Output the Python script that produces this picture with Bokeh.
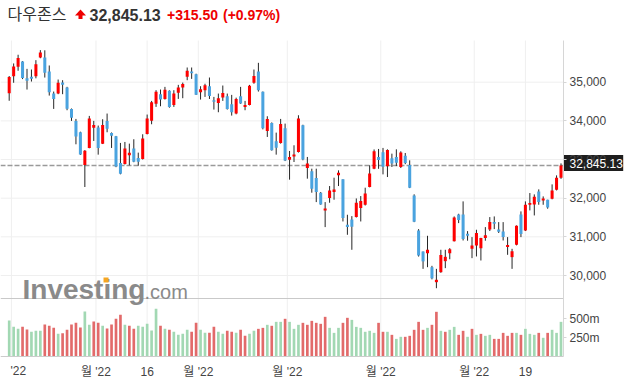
from bokeh.plotting import figure
from bokeh.models import (Range1d, FixedTicker, Label, CustomJSTickFormatter,
                          ColumnDataSource, LinearAxis)
from bokeh.embed import file_html
from bokeh.resources import INLINE

# ---------------- data (Dow Jones daily, 2022-01-31 .. 2022-07-29) ----------------
opens = [34716, 35155, 35397, 35535, 35105, 35138, 35155, 35640, 35640, 35276,
         34706, 34706, 34990, 34862, 34309, 33998, 33705, 32858, 33300, 33820,
         33826, 33411, 33999, 33688, 33601, 32910, 32884, 33109, 33282, 33040,
         33014, 33662, 34000, 34440, 34689, 34568, 34776, 34413, 34724, 34862,
         35138, 35276, 35207, 34741, 34793, 34896, 34534, 34465, 34603, 34637,
         34430, 34188, 34637, 34361, 34413, 34983, 35276, 34750, 33739, 33947,
         33472, 33429, 33808, 32997, 33080, 33195, 33886, 32781, 32695, 32521,
         32141, 31684, 32003, 32159, 32590, 32487, 31312, 31450, 31511, 31744,
         31830, 32288, 32763, 33066, 33187, 32824, 33031, 33066, 32807, 33100,
         32858, 32072, 31165, 30621, 30578, 30215, 29827, 30086, 30371, 30578,
         30889, 31580, 31580, 31080, 30690, 30777, 30708, 30967, 31191, 31381,
         31191, 31140, 30734, 30475, 30794, 31580, 31165, 31830, 31839, 32176,
         31943, 31960, 31986, 32219, 32530]
highs = [35160, 35485, 35710, 35545, 35345, 35328, 35570, 35830, 35825, 35432,
         34758, 35069, 35052, 34880, 34320, 34050, 33720, 33245, 34128, 33999,
         33878, 34042, 34189, 33700, 33610, 33429, 33454, 33411, 33524, 33178,
         33653, 34163, 34516, 34793, 34810, 34879, 34790, 34793, 34931, 34990,
         35380, 35380, 35220, 34896, 34960, 35121, 34620, 34706, 34914, 34706,
         34672, 34600, 34879, 34516, 34930, 35328, 35501, 34760, 34119, 33960,
         33696, 34050, 33929, 33221, 33368, 34145, 33900, 33066, 32763, 32763,
         32160, 31899, 32314, 32530, 32720, 32487, 31571, 31536, 31993, 32055,
         32271, 32850, 33260, 33273, 33300, 33264, 33152, 33264, 33213, 33169,
         32979, 32100, 31200, 30621, 31027, 30250, 30172, 30665, 30665, 30708,
         31528, 31597, 31917, 31148, 30993, 31183, 30975, 31252, 31511, 31528,
         31381, 31381, 30993, 30690, 31295, 31658, 31917, 32133, 32098, 32228,
         32046, 31960, 32357, 32590, 32900]
lows = [34520, 34985, 35295, 35080, 34810, 35017, 35100, 35620, 35120, 34654,
        34309, 34690, 34690, 34275, 33998, 33394, 33118, 32289, 33290, 33480,
        33126, 33400, 33705, 33299, 32802, 32617, 32870, 32850, 32930, 32841,
        33000, 33650, 33912, 34361, 34378, 34550, 34340, 34361, 34568, 34586,
        35052, 35086, 34670, 34551, 34620, 34566, 34292, 34223, 34516, 34292,
        34136, 34170, 34440, 34275, 34400, 34960, 34758, 33780, 33584, 33230,
        33126, 33410, 32960, 32479, 32936, 33180, 32980, 32505, 32142, 31899,
        31830, 31252, 31882, 31960, 32314, 31398, 31053, 30665, 31500, 31398,
        31810, 32280, 32750, 32760, 32616, 32547, 32807, 32830, 32780, 32880,
        32260, 31380, 30490, 30172, 30215, 29900, 29671, 30070, 30190, 30420,
        30880, 31355, 30906, 30900, 30449, 30492, 30388, 30900, 31150, 31200,
        31100, 30906, 30535, 30172, 30780, 30993, 31150, 31684, 31554, 31830,
        31830, 31727, 31970, 32200, 32500]
closes = [35132, 35405, 35629, 35111, 35040, 35091, 35463, 35768, 35242, 34738,
          34566, 34989, 34934, 34312, 34079, 33597, 33132, 33224, 34059, 33892,
          33295, 33891, 33795, 33615, 32817, 32633, 33286, 33174, 32944, 32945,
          33544, 34063, 34481, 34755, 34553, 34807, 34358, 34708, 34861, 34956,
          35294, 35229, 34678, 34818, 34922, 34641, 34497, 34584, 34721, 34308,
          34220, 34565, 34451, 34412, 34911, 35161, 34793, 33811, 34049, 33240,
          33302, 33916, 32977, 33062, 33129, 34061, 32998, 32899, 32246, 32161,
          31834, 31730, 32197, 32223, 32655, 31490, 31253, 31262, 31880, 31929,
          32120, 32637, 33213, 32990, 32813, 33248, 32900, 32916, 33180, 32911,
          32273, 31393, 30517, 30365, 30669, 29927, 29889, 30530, 30483, 30677,
          31501, 31438, 30947, 31029, 30775, 31097, 30968, 31038, 31385, 31338,
          31130, 30993, 30790, 30630, 31288, 31073, 31827, 31875, 32037, 31899,
          31990, 31762, 32198, 32530, 32845.13]
volumes_m = [474, 390, 364, 390, 355, 325, 338, 338, 421, 404,
             377, 298, 307, 351, 421, 443, 382, 592, 417, 461,
             443, 404, 368, 421, 496, 548, 417, 404, 364, 404,
             390, 430, 342, 627, 404, 364, 351, 325, 285, 298,
             351, 325, 443, 351, 311, 311, 390, 325, 298, 338,
             325, 311, 351, 272, 298, 338, 364, 377, 417, 404,
             456, 456, 496, 456, 364, 417, 443, 417, 469, 443,
             430, 522, 377, 311, 377, 443, 509, 482, 390, 377,
             325, 338, 311, 443, 325, 325, 285, 232, 259, 259,
             272, 351, 456, 351, 377, 417, 588, 338, 325, 351,
             390, 285, 338, 259, 364, 285, 298, 272, 285, 232,
             232, 311, 272, 311, 311, 285, 364, 298, 285, 311,
             246, 311, 351, 311, 456]

x_tick_positions = [0.5, 19.5, 31, 42.5, 62.5, 83.5, 104.5, 116]
x_tick_labels = ["'22", "월 '22", "16", "월 '22", "월 '22", "월 '22", "월 '22", "19"]
price_ticks = [30000, 31000, 32000, 33000, 34000, 35000]
volume_ticks_m = [250, 500]

instrument = "다우존스"
last_price = 32845.13
change = 315.50
change_pct = 0.97

# ---------------- layout (pixel geometry of the canvas) ----------------
W, H = 633, 380
PX_PER_DAY = 4.45
FIRST_X = 8.7                      # px of first candle
PX_PER_PT = (275.0 - 81.7) / 5000  # price scale
Y35K = 81.7
AXIS_X = 563                       # price axis line
PANE_TOP, SEP_Y, VOL_BASE = 40, 298, 356
VOL_PX_PER_UNIT = 38 / 500e6


def px2x(px):
    return (px - FIRST_X) / PX_PER_DAY


def py2p(py):
    return 35000 - (py - Y35K) / PX_PER_PT


def p2py(price):
    return Y35K + (35000 - price) * PX_PER_PT


def py2v(py):
    return (VOL_BASE - py) / VOL_PX_PER_UNIT


X0, XE, XA = px2x(0), px2x(W), px2x(AXIS_X)
PT, PB = py2p(0), py2p(H)

UP_RED, DOWN_BLUE = "#fe0000", "#4aa3df"
VOL_UP, VOL_DOWN = "#a2d8b3", "#e26a6a"
GRID = "#efefef"

n = len(closes)
idx = list(range(n))
src = ColumnDataSource(dict(
    idx=idx, high=highs, low=lows,
    top=[max(o, c) for o, c in zip(opens, closes)],
    bot=[min(o, c) for o, c in zip(opens, closes)],
    col=[UP_RED if c >= o else DOWN_BLUE for o, c in zip(opens, closes)],
    vol=[v * 1e6 for v in volumes_m],
    vcol=[VOL_UP if (i == 0 or closes[i] >= closes[i - 1]) else VOL_DOWN for i in idx],
))

p = figure(width=W, height=H, output_backend="svg", toolbar_location=None,
           x_range=Range1d(X0, XE), y_range=Range1d(PB, PT),
           x_axis_location=None, y_axis_location=None,
           min_border=0, min_border_left=0, min_border_right=0,
           min_border_top=0, min_border_bottom=0, outline_line_color=None,
           background_fill_color="white", border_fill_color="white")
p.extra_y_ranges = {"vol": Range1d(py2v(H), py2v(0))}
p.grid.visible = False

# grid lines (bounded to the chart panes)
p.segment(x0=X0, x1=XA, y0=price_ticks, y1=price_ticks, line_color=GRID, line_width=1)
p.segment(x0=x_tick_positions, x1=x_tick_positions, y0=py2p(PANE_TOP), y1=py2p(VOL_BASE),
          line_color=GRID, line_width=1)

# price axis (right) – price ticks plus volume ticks mapped into the price scale
vol_tick_pos = [py2p(VOL_BASE - v * 1e6 * VOL_PX_PER_UNIT) for v in volume_ticks_m]
a = PX_PER_PT / VOL_PX_PER_UNIT           # d(volume)/d(price)
b = py2v(Y35K) - a * 35000
ya = LinearAxis(fixed_location=XA, bounds=(py2p(VOL_BASE), py2p(PANE_TOP)),
                ticker=FixedTicker(ticks=price_ticks + vol_tick_pos, minor_ticks=[]))
ya.formatter = CustomJSTickFormatter(
    args=dict(a=a, b=b, split=(price_ticks[0] + max(vol_tick_pos)) / 2),
    code="""
    if (tick < split) { return Math.round((a * tick + b) / 1e6) + "m"; }
    return Math.round(tick).toLocaleString("en-US");
""")
ya.axis_line_color = "#d6d6d6"
ya.major_tick_line_color = "#d6d6d6"
ya.major_tick_out = 3
ya.major_tick_in = 0
ya.minor_tick_line_color = None
ya.major_label_standoff = 3
ya.major_label_text_font = "Liberation Sans"
ya.major_label_text_font_size = "12px"
ya.major_label_text_color = "#444444"
p.add_layout(ya, "right")

# date axis (bottom of the volume pane); first label is cut by the left edge
xa = LinearAxis(fixed_location=py2p(VOL_BASE), bounds=(X0, XA),
                ticker=FixedTicker(ticks=x_tick_positions, minor_ticks=[]))
xa.major_label_overrides = {t: (lab if i > 0 else "") for i, (t, lab)
                            in enumerate(zip(x_tick_positions, x_tick_labels))}
xa.axis_line_color = "#cccccc"
xa.major_tick_out = 0
xa.major_tick_in = 0
xa.minor_tick_line_color = None
xa.major_label_standoff = 8
xa.major_label_text_font = "Liberation Sans, Noto Sans CJK KR"
xa.major_label_text_font_size = "12px"
xa.major_label_text_color = "#444444"
p.add_layout(xa, "below")
p.add_layout(Label(x=px2x(10), y=py2p(370.5), text=x_tick_labels[0],
                   text_font="Liberation Sans", text_font_size="12px",
                   text_color="#444444", text_baseline="middle", text_align="left"))

# pane separator and last-price line
p.segment(x0=X0, x1=XA, y0=py2p(SEP_Y), y1=py2p(SEP_Y), line_color="#c9c9c9", line_width=1)
p.segment(x0=X0, x1=XA, y0=last_price, y1=last_price, line_color="#9a9a9a",
          line_dash="5 2", line_width=1.6)

# volume bars
p.vbar(x="idx", top="vol", bottom=0, width=0.6, source=src, fill_color="vcol",
       line_color=None, y_range_name="vol")
# candles
p.segment(x0="idx", y0="low", x1="idx", y1="high", source=src, line_color="#262626",
          line_width=1)
p.vbar(x="idx", top="top", bottom="bot", width=0.68, source=src, fill_color="col",
       line_color=None)

# last price badge (box starts at the axis line)
ylp = p2py(last_price)
p.quad(left=XA, right=px2x(622.7), top=py2p(ylp - 10.5), bottom=py2p(ylp + 5.5),
       fill_color="#1e1e1e", line_color=None)
p.add_layout(Label(x=px2x(569), y=py2p(ylp - 2.5), text=f"{last_price:,.2f}",
                   text_font="Liberation Sans", text_font_size="12px", text_color="white",
                   text_align="left", text_baseline="middle"))

# header arrow icon
p.patch(x=[px2x(74.5), px2x(85.5), px2x(80)], y=[py2p(15), py2p(15), py2p(9)],
        fill_color="#ee0000", line_color=None)
p.quad(left=px2x(78), right=px2x(82), top=py2p(14.5), bottom=py2p(18.5),
       fill_color="#ee0000", line_color=None)

# watermark
p.add_layout(Label(x=px2x(22), y=py2p(288.8), text="Investing", text_font="Liberation Sans",
                   text_font_style="bold", text_font_size="28px", text_color="#8a8a8a",
                   text_baseline="middle"))
p.add_layout(Label(x=px2x(144), y=py2p(291.6), text=".com", text_font="Liberation Sans",
                   text_font_size="20px", text_color="#8a8a8a", text_baseline="middle"))
p.quad(left=px2x(103), right=px2x(108), top=py2p(277), bottom=py2p(282),
       fill_color="#f5a623", line_color=None, level="overlay")

# header text
p.add_layout(Label(x=px2x(7), y=py2p(12.5), text=instrument, text_font="Noto Sans CJK KR",
                   text_font_size="16px", text_color="#333333", text_baseline="middle"))
p.add_layout(Label(x=px2x(89), y=py2p(14.0), text=f"{last_price:,.2f}",
                   text_font="Liberation Sans", text_font_style="bold",
                   text_font_size="16px", text_color="#333333", text_baseline="middle"))
p.add_layout(Label(x=px2x(166.5), y=py2p(14.6), text=f"+{change:.2f}",
                   text_font="Liberation Sans", text_font_style="bold",
                   text_font_size="14px", text_color="#ee0000", text_baseline="middle"))
p.add_layout(Label(x=px2x(222.5), y=py2p(14.6), text=f"(+{change_pct:.2f}%)",
                   text_font="Liberation Sans", text_font_style="bold",
                   text_font_size="14px", text_color="#ee0000", text_baseline="middle"))

open("out.html", "w").write(file_html(p, INLINE))
